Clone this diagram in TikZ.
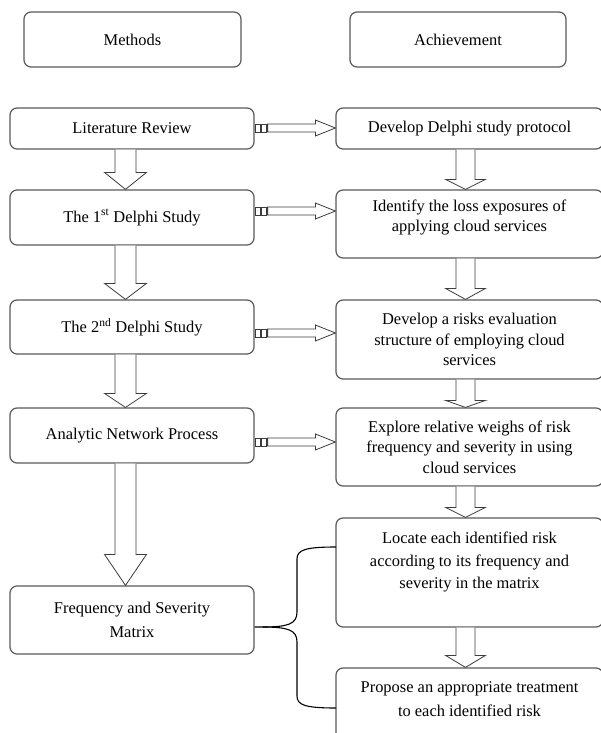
\documentclass[tikz,border=0pt]{standalone}
\usepackage{fontspec}
\setmainfont{Liberation Serif}
\definecolor{boxgray}{HTML}{5A5A5A}
\definecolor{arrgray}{HTML}{3C3C3C}
\tikzset{
  box/.style={draw=boxgray, line width=1.2bp, rounded corners=7bp, inner sep=0pt,
    align=center, font=\fontsize{16.5}{20.5}\selectfont},
  blk/.style={draw=arrgray, fill=white, line width=0.8bp, line join=miter},
  bracelink/.style={draw=black, line width=1.1bp}
}
% vertical block arrow: #1 from, #2 to, #3 column coordinate, #4 half shaft, #5 half head, #6 head length
\newcommand\vblk[6]{%
  \draw[blk] ([xshift=-#4]#3 |- #1.south) -- ([xshift=-#4,yshift=#6]#3 |- #2.north)
    -- ([xshift=-#5,yshift=#6]#3 |- #2.north) -- (#3 |- #2.north)
    -- ([xshift=#5,yshift=#6]#3 |- #2.north) -- ([xshift=#4,yshift=#6]#3 |- #2.north)
    -- ([xshift=#4]#3 |- #1.south);}
% horizontal block arrow with striped tail: #1 from, #2 to, #3 row coordinate
\newcommand\hblk[3]{%
  \draw[blk] ([xshift=1bp,yshift=4bp]#1.east |- #3) rectangle ([xshift=5.5bp,yshift=-4bp]#1.east |- #3);
  \draw[blk] ([xshift=7bp,yshift=4bp]#1.east |- #3) rectangle ([xshift=11.5bp,yshift=-4bp]#1.east |- #3);
  \draw[blk] ([xshift=13bp,yshift=4bp]#1.east |- #3) -- ([xshift=-20bp,yshift=4bp]#2.west |- #3)
    -- ([xshift=-20bp,yshift=8bp]#2.west |- #3) -- (#2.west |- #3)
    -- ([xshift=-20bp,yshift=-8bp]#2.west |- #3) -- ([xshift=-20bp,yshift=-4bp]#2.west |- #3)
    -- ([xshift=13bp,yshift=-4bp]#1.east |- #3) -- cycle;}
\begin{document}
\begin{tikzpicture}[x=1bp,y=-1bp]
\useasboundingbox[fill=white] (0,0) rectangle (601,733);
\coordinate (colL) at (125.5,0);
\coordinate (colR) at (465.5,0);
\coordinate (r1) at (0,128);
\coordinate (r2) at (0,211);
\coordinate (r3) at (0,333);
\coordinate (r4) at (0,442);
% headers
\node[box, minimum width=217bp, minimum height=55bp] (meth) at (132.5,39.5) {Methods};
\node[box, minimum width=216bp, minimum height=55bp] (ach) at (458,39.5) {Achievement};
% left column
\node[box, minimum width=244bp, minimum height=41bp] (lr) at (132,128.5) {Literature Review};
\node[box, minimum width=244bp, minimum height=55bp] (d1) at (132,217.5) {The 1\textsuperscript{st} Delphi Study};
\node[box, minimum width=244bp, minimum height=54bp] (d2) at (132,327) {The 2\textsuperscript{nd} Delphi Study};
\node[box, minimum width=244bp, minimum height=55bp] (anp) at (132,435.5) {Analytic Network Process};
\node[box, minimum width=244bp, minimum height=68bp] (fsm) at (132,620) {Frequency and Severity\\[3bp]Matrix};
% right column
\node[box, minimum width=267bp, minimum height=41bp] (ddp) at (469.5,128.5) {Develop Delphi study protocol};
\node[box, minimum width=267bp, minimum height=68bp] (idf) at (469.5,224) {Identify the loss exposures of\\applying cloud services\\[-4bp]};
\node[box, minimum width=267bp, minimum height=79bp] (dre) at (469.5,339.5) {Develop a risks evaluation\\structure of employing cloud\\services};
\node[box, minimum width=267bp, minimum height=78bp] (exp) at (469.5,447) {Explore relative weighs of risk\\frequency and severity in using\\cloud services};
\node[box, minimum width=267bp, minimum height=109bp] (loc) at (469.5,572.5) {Locate each identified risk\\[2bp]according to its frequency and\\[2bp]severity in the matrix\\[4bp]};
\node[box, minimum width=267bp, minimum height=80bp] (prp) at (469.5,708) {Propose an appropriate treatment\\[4bp]to each identified risk\\[-2bp]};
% vertical arrows
\vblk{lr}{d1}{colL}{10.5bp}{21bp}{17bp}
\vblk{d1}{d2}{colL}{10.5bp}{21bp}{16bp}
\vblk{d2}{anp}{colL}{10.5bp}{21bp}{14bp}
\vblk{anp}{fsm}{colL}{10.5bp}{21bp}{31bp}
\vblk{ddp}{idf}{colR}{9.5bp}{20bp}{10bp}
\vblk{idf}{dre}{colR}{9.5bp}{20bp}{11bp}
\vblk{dre}{exp}{colR}{9.5bp}{20bp}{7bp}
\vblk{exp}{loc}{colR}{9.5bp}{20bp}{10bp}
\vblk{loc}{prp}{colR}{9.5bp}{20bp}{12bp}
% horizontal arrows
\hblk{lr}{ddp}{r1}
\hblk{d1}{idf}{r2}
\hblk{d2}{dre}{r3}
\hblk{anp}{exp}{r4}
% bracket
\coordinate (jn) at ([yshift=-7bp]fsm.east);
\coordinate (ub) at (336,547);
\coordinate (lb) at (336,708);
\draw[bracelink] (jn) -- ++(8,0) coordinate (jm)
  .. controls (288,627) and (297,624) .. (297,612) -- (297,559)
  .. controls (297,550) and (305,547) .. (ub);
\draw[bracelink] (jm)
  .. controls (288,627) and (297,630) .. (297,642) -- (297,696)
  .. controls (297,705) and (305,708) .. (lb);
\end{tikzpicture}
\end{document}
